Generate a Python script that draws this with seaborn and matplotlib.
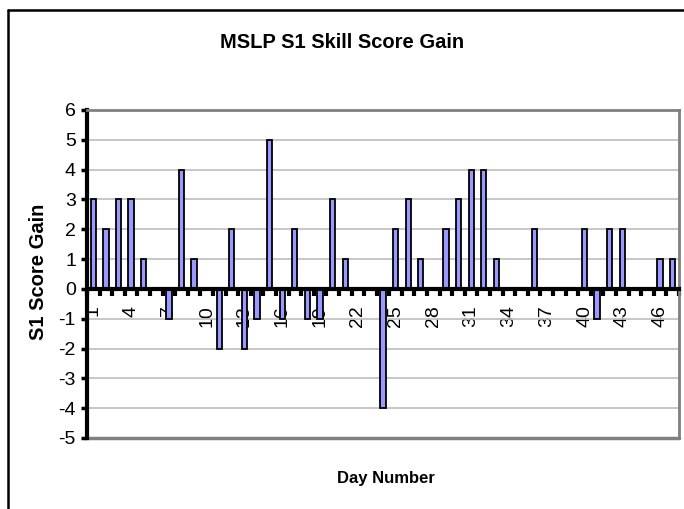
import matplotlib
matplotlib.use("Agg")
import matplotlib.pyplot as plt
import seaborn as sns
import pandas as pd
import numpy as np
from matplotlib.lines import Line2D

days = [str(d) for d in range(1, 48)]
gains = [3, 2, 3, 3, 1, 0, -1, 4, 1, 0,
         -2, 2, -2, -1, 5, -1, 2, -1, -1, 3,
         1, 0, 0, -4, 2, 3, 1, 0, 2, 3,
         4, 4, 1, 0, 0, 2, 0, 0, 0, 2,
         -1, 2, 2, 0, 0, 1, 1]
label_days = [str(d) for d in range(1, 48, 3)]
y_ticks = list(range(-5, 7))

title = "MSLP S1 Skill Score Gain"
xlabel = "Day Number"
ylabel = "S1 Score Gain"

sns.set_theme(style="white")
plt.rcParams['font.family'] = ['Liberation Sans', 'DejaVu Sans']

df = pd.DataFrame({"day": days, "gain": gains})

fig = plt.figure(figsize=(6.84, 5.09), dpi=100)
ax = fig.add_axes([87/684, 1-438/509, (679-87)/684, (438-110)/509])

sns.barplot(data=df, x="day", y="gain", order=days, color="#9999FF",
            saturation=1, edgecolor="black", linewidth=1.3, width=0.42,
            errorbar=None, ax=ax, zorder=3)

ax.set_xlim(-0.5, len(days) - 0.5)
ax.set_ylim(-5, 6)
ax.set_yticks(y_ticks)
ax.set_yticklabels([str(v) for v in y_ticks], fontsize=14, color="black")

ax.set_axisbelow(True)
ax.grid(axis="y", color="#BDBDBD", linewidth=1.2)
ax.grid(axis="x", visible=False)

# x axis at zero
ax.spines["bottom"].set_position(("data", 0))
ax.spines["bottom"].set_color("black")
ax.spines["bottom"].set_linewidth(3)
ax.spines["bottom"].set_zorder(4)
ax.spines["left"].set_color("black")
ax.spines["left"].set_linewidth(3)
for s in ["top", "right"]:
    ax.spines[s].set_color("#808080")
    ax.spines[s].set_linewidth(2)
ax.axhline(-5, color="#808080", linewidth=2.5, zorder=2, clip_on=False)

pos = [days.index(d) for d in label_days]
ax.set_xticks(pos)
ax.set_xticklabels(label_days, rotation=90, fontsize=14, color="black",
                   va="top", ha="center")
ax.set_xticks(np.arange(-0.5, len(days), 1.0), minor=True)
ax.tick_params(axis="x", which="major", length=0, pad=12)
ax.tick_params(axis="x", which="minor", length=5, width=3, color="black",
               direction="out", bottom=True)
ax.tick_params(axis="y", which="major", length=4, width=2.5, color="black",
               direction="out", left=True, pad=4)
ax.set_xlabel("")
ax.set_ylabel("")

fig.text(342/684, 1-48/509, title, ha="center", va="baseline",
         fontsize=14.5, fontweight="bold", color="black")
fig.text(386/684, 1-478/509, xlabel, ha="center", va="center",
         fontsize=12, fontweight="bold", color="black")
fig.text(39/684, 1-272/509, ylabel, ha="center", va="center",
         rotation=90, fontsize=14.5, fontweight="bold", color="black")

# outer chart frame (left and top edges visible)
fig.add_artist(Line2D([8/684, 8/684], [0, 1-10/509], transform=fig.transFigure,
                      color="black", linewidth=1.8))
fig.add_artist(Line2D([8/684, 1], [1-10/509, 1-10/509], transform=fig.transFigure,
                      color="black", linewidth=1.8))

fig.savefig("out.png", dpi=100, facecolor="white")
